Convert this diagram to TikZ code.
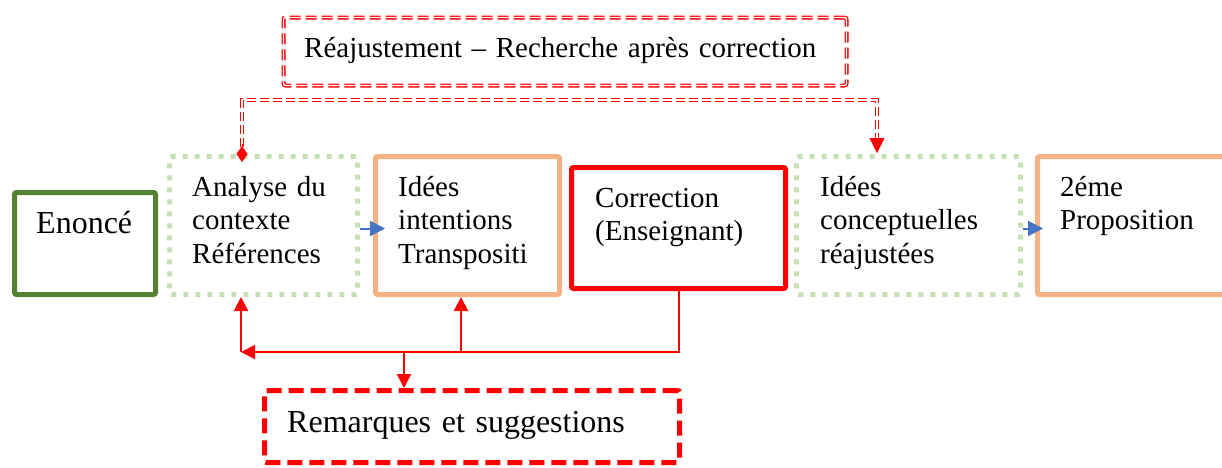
\documentclass[tikz,border=0pt]{standalone}
\usepackage{fontspec}
\setmainfont{Liberation Serif}
\usetikzlibrary{arrows.meta,positioning}

\definecolor{boxgreen}{RGB}{84,130,53}
\definecolor{palegreen}{RGB}{197,224,180}
\definecolor{boxorange}{RGB}{244,177,131}
\definecolor{arrowblue}{RGB}{68,114,196}

\tikzset{
  box/.style={draw, rounded corners=2pt, inner sep=0pt},
  enoncebox/.style={box, draw=boxgreen, line width=5pt},
  dotbox/.style={box, draw=palegreen, line width=5pt, dash pattern=on 5pt off 7pt},
  orangebox/.style={box, draw=boxorange, line width=5pt},
  redbox/.style={box, draw=red, line width=5pt},
  dashbox/.style={box, draw=red, line width=5pt, dash pattern=on 15pt off 7pt},
  dblbox/.style={box, draw=red, line width=1.3pt, double=white, double distance=1.4pt, dash pattern=on 11pt off 5pt},
  dblline/.style={draw=red, line width=1.4pt, double=white, double distance=1.5pt, dash pattern=on 9pt off 4pt},
  tipred/.style={draw=red, fill=red, line width=0.4pt},
  txt/.style={anchor=base west, inner sep=0pt, text width=560pt, align=left, font=\fontsize{29}{33.5}\selectfont},
  bigtxt/.style={txt, font=\fontsize{32}{36}\selectfont},
  fbarrow/.style={draw=red, line width=2pt, -{Triangle[length=14pt,width=14pt]}},
  bluearrow/.style={draw=arrowblue, line width=2pt, -{Triangle[length=15pt,width=15pt]}},
}

\begin{document}
\begin{tikzpicture}[x=1pt,y=-1pt]
  \useasboundingbox (0,0) rectangle (1222,467);
  % boxes
  \node[dblbox, minimum width=563pt, minimum height=68pt] (recherche) at (565,51.5) {};
  \node[enoncebox, minimum width=141pt, minimum height=102pt] (enonce) at (85,243.5) {};
  \node[dotbox, minimum width=188pt, minimum height=138pt] (analyse) at (263.5,225.5) {};
  \node[orangebox, minimum width=184pt, minimum height=138pt] (intentions) at (467.5,225.5) {};
  \node[redbox, minimum width=214pt, minimum height=121pt] (correction) at (678.5,228) {};
  \node[dotbox, minimum width=224pt, minimum height=138pt] (reajust) at (908.5,225.5) {};
  \node[orangebox, minimum width=188.5pt, minimum height=138pt] (proposition) at (1131.75,225.5) {};
  \node[dashbox, minimum width=415pt, minimum height=72pt] (remarques) at (472,426.5) {};

  % texts
  \node[txt] (recherche-t) at (304,57) {Réajustement – Recherche après correction};
  \node[bigtxt] (enonce-t) at (36,233) {Enoncé};
  \node[txt] (analyse-t) at (192,196) {Analyse du\\contexte\\Références};
  \node[txt] (intentions-t) at (398,196) {Idées\\intentions\\Transpositi};
  \node[txt] (correction-t) at (595,207) {Correction\\(Enseignant)};
  \node[txt] (reajust-t) at (820,196) {Idées\\conceptuelles\\réajustées};
  \node[txt] (proposition-t) at (1060,196) {2éme\\Proposition};
  \node[bigtxt] (remarques-t) at (287,432) {Remarques et suggestions};

  % connectors
  \draw[dblline] ([shift={(-21.5,-7)}]analyse.north) -- ++(0,-47) -| ([xshift=-31.5pt,yshift=14pt]reajust.north);
  \draw[tipred, -{Diamond[length=16pt,width=11pt]}] ([shift={(-21.5,-10)}]analyse.north) -- ([shift={(-21.5,8)}]analyse.north);
  \draw[tipred, -{Triangle[length=15pt,width=15pt]}] ([xshift=-31.5pt,yshift=16pt]reajust.north) -- ([xshift=-31.5pt,yshift=1pt]reajust.north);
  \draw[bluearrow] ([yshift=-3pt]analyse.east) -- ([shift={(12,3)}]intentions.west);
  \draw[bluearrow] ([yshift=-3pt]reajust.east) -- ([shift={(8,3)}]proposition.west);

  \coordinate (fbleft) at (241,352);
  \coordinate (fbmid) at (461,352);
  \coordinate (fbdown) at (404,352);
  \draw[fbarrow] (correction.south) |- (fbleft);
  \draw[fbarrow] (fbleft) -- (analyse.south -| fbleft);
  \draw[fbarrow] (fbmid) -- (intentions.south -| fbmid);
  \draw[fbarrow] (fbdown) -- (remarques.north -| fbdown);
\end{tikzpicture}
\end{document}
